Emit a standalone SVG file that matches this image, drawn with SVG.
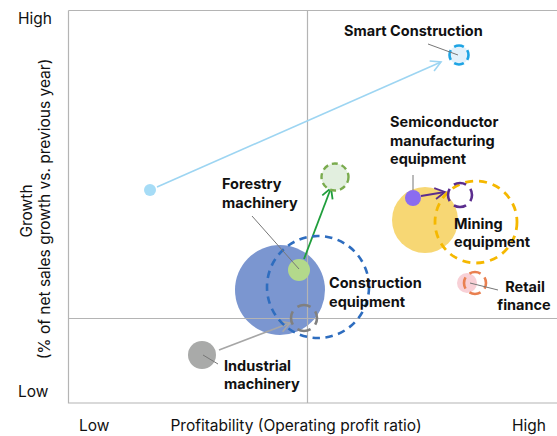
<svg xmlns="http://www.w3.org/2000/svg" width="557" height="436" viewBox="0 0 557 436">
<style>
text{font-family:Inter,"Liberation Sans",Arial,sans-serif;fill:#111;}
.ax{font-size:15.5px;}
.lbl{font-size:14.5px;font-weight:700;}
.grid{stroke:#b4b4b4;stroke-width:1.2;fill:none;}
.lead{stroke:#777;stroke-width:1;fill:none;}
.d4{stroke-dasharray:17 8;stroke-dashoffset:8.5;}
</style>
<defs>
<marker id="mBlue" markerUnits="userSpaceOnUse" markerWidth="14" markerHeight="14" refX="11" refY="6" orient="auto" viewBox="0 0 14 12"><path d="M1,0.5 L11,6 L1,11.5" fill="none" stroke="#9dd5f2" stroke-width="1.6"/></marker>
<marker id="mGreen" markerUnits="userSpaceOnUse" markerWidth="14" markerHeight="14" refX="11" refY="6" orient="auto" viewBox="0 0 14 12"><path d="M1,0.5 L11,6 L1,11.5" fill="none" stroke="#1f9e3c" stroke-width="1.8"/></marker>
<marker id="mPurple" markerUnits="userSpaceOnUse" markerWidth="14" markerHeight="14" refX="11" refY="6" orient="auto" viewBox="0 0 14 12"><path d="M1,0.5 L11,6 L1,11.5" fill="none" stroke="#5b2d8e" stroke-width="1.8"/></marker>
<marker id="mGray" markerUnits="userSpaceOnUse" markerWidth="14" markerHeight="14" refX="11" refY="6" orient="auto" viewBox="0 0 14 12"><path d="M1,0.5 L11,6 L1,11.5" fill="none" stroke="#a6a6a6" stroke-width="1.6"/></marker>
</defs>
<rect width="557" height="436" fill="#fff"/>
<g id="axes">
<path class="grid" d="M68.5,10.5 H557 M68.5,10.5 V403 H557"/>
<text class="ax" x="18" y="24">High</text>
<text class="ax" x="18" y="397">Low</text>
<text class="ax" x="79" y="431">Low</text>
<text class="ax" x="296" y="431" text-anchor="middle">Profitability (Operating profit ratio)</text>
<text class="ax" x="512" y="431">High</text>
<text class="ax" transform="translate(32,211) rotate(-90)" text-anchor="middle">Growth</text>
<text class="ax" transform="translate(50,209) rotate(-90)" text-anchor="middle">(% of net sales growth vs. previous year)</text>
</g>
<g id="construction-equipment">
<circle cx="280" cy="290" r="45" fill="#7b96d0"/>
</g>
<g id="mining-equipment">
<circle cx="425" cy="220" r="33" fill="#f7d774"/>
</g>
<g id="gridlines">
<path class="grid" d="M307.5,10.5 V403 M68.5,318.5 H557"/>
</g>
<g id="connectors">
<line x1="157" y1="187" x2="441" y2="62" stroke="#9dd5f2" stroke-width="1.6" marker-end="url(#mBlue)"/>
<line x1="304" y1="259" x2="331" y2="188" stroke="#1f9e3c" stroke-width="1.8" marker-end="url(#mGreen)"/>
<line x1="421" y1="196" x2="445" y2="192" stroke="#5b2d8e" stroke-width="1.8" marker-end="url(#mPurple)"/>
<line x1="219" y1="350" x2="290" y2="323" stroke="#a6a6a6" stroke-width="1.6" marker-end="url(#mGray)"/>
</g>
<g id="construction-equipment-target">
<circle cx="318" cy="287" r="51" fill="none" stroke="#2e6dbf" stroke-width="2.6" stroke-dasharray="7.5 5.5"/>
<text class="lbl" x="329" y="288">Construction</text>
<text class="lbl" x="329" y="307">equipment</text>
</g>
<g id="mining-equipment-target">
<circle cx="476" cy="222" r="41" fill="none" stroke="#f5b800" stroke-width="2.8" stroke-dasharray="8 6"/>
<text class="lbl" x="454" y="229">Mining</text>
<text class="lbl" x="454" y="247">equipment</text>
</g>
<g id="smart-construction">
<circle cx="150" cy="190" r="6" fill="#a6dcf6"/>
<circle cx="459" cy="55" r="9.5" fill="#e2f1fb" stroke="#1ea4e4" stroke-width="2.6" pathLength="100" class="d4"/>
<line class="lead" x1="428" y1="44" x2="458" y2="55"/>
<text class="lbl" x="344" y="36">Smart Construction</text>
</g>
<g id="semiconductor">
<circle cx="413" cy="198" r="8" fill="#8b6cf0"/>
<circle cx="460" cy="195" r="12" fill="none" stroke="#5b2d8e" stroke-width="2.6" pathLength="100" class="d4"/>
<line class="lead" x1="413" y1="175" x2="413" y2="190"/>
<text class="lbl" x="390" y="127">Semiconductor</text>
<text class="lbl" x="390" y="146">manufacturing</text>
<text class="lbl" x="390" y="164">equipment</text>
</g>
<g id="forestry-machinery">
<circle cx="299" cy="270" r="11" fill="#b3d98b"/>
<circle cx="335" cy="177" r="13.5" fill="#e2efdf" stroke="#7aab4e" stroke-width="2.4" stroke-dasharray="6 4"/>
<line class="lead" x1="252" y1="216" x2="299" y2="269"/>
<text class="lbl" x="222" y="189">Forestry</text>
<text class="lbl" x="222" y="208">machinery</text>
</g>
<g id="industrial-machinery">
<circle cx="202" cy="355" r="14" fill="#a9aaa9"/>
<circle cx="304" cy="318" r="13" fill="none" stroke="#808080" stroke-width="2.6" pathLength="100" class="d4"/>
<line class="lead" x1="203" y1="355" x2="218" y2="364"/>
<text class="lbl" x="224" y="371">Industrial</text>
<text class="lbl" x="224" y="389">machinery</text>
</g>
<g id="retail-finance">
<circle cx="467" cy="283" r="10" fill="#f8d0d6"/>
<circle cx="475" cy="283" r="11" fill="none" stroke="#e98050" stroke-width="2.6" pathLength="100" class="d4"/>
<line class="lead" x1="470" y1="283" x2="498" y2="290"/>
<text class="lbl" x="525" y="292" text-anchor="middle">Retail</text>
<text class="lbl" x="524" y="310" text-anchor="middle">finance</text>
</g>
</svg>
